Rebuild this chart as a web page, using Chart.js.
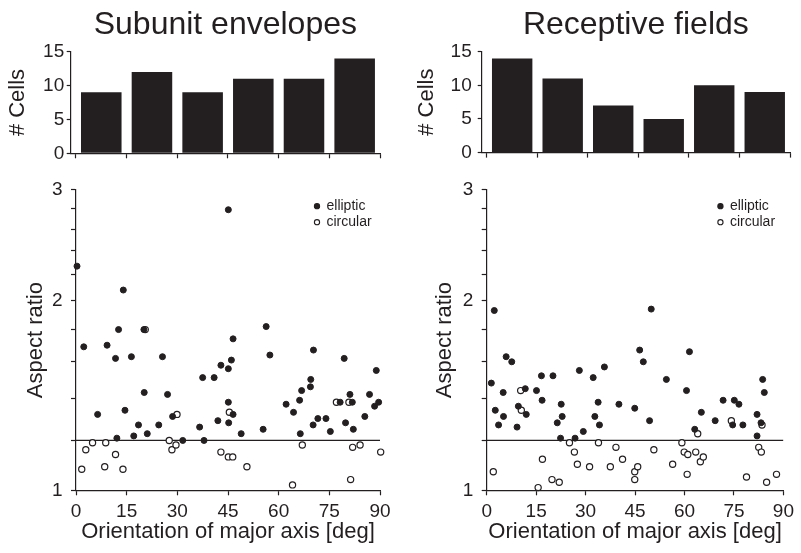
<!DOCTYPE html>
<html>
<head>
<meta charset="utf-8">
<script src="https://cdn.jsdelivr.net/npm/chart.js@4/dist/chart.umd.min.js"></script>
<style>
  html, body { margin: 0; background: #fff; }
  #fig { position: relative; width: 801px; height: 553px; overflow: hidden; }
  #fig canvas { position: absolute; }
</style>
</head>
<body>
<div id="fig">
  <canvas id="histL" width="400" height="170" style="left:0;top:0"></canvas>
  <canvas id="scatL" width="400" height="383" style="left:0;top:170px"></canvas>
  <canvas id="histR" width="401" height="170" style="left:400px;top:0"></canvas>
  <canvas id="scatR" width="401" height="383" style="left:400px;top:170px"></canvas>
</div>
<script>
// orientation bins (deg) and cell counts per bin
const binCenters = [7.5, 22.5, 37.5, 52.5, 67.5, 82.5];
const subunitCounts = [9, 12, 9, 11, 11, 14];
const receptiveCounts = [14, 11, 7, 5, 10, 9];

const degTicks = [0, 15, 30, 45, 60, 75, 90];
const ratioTicks = [1, 1.2, 1.4, 1.6, 1.8, 2, 2.2, 2.4, 2.6, 2.8, 3];
const ratioLabels = [1, 2, 3];
const cutoff = 1.2;

// [orientation deg, aspect ratio]
const subunitElliptic = [
  [0.3, 2.27], [45.1, 2.79], [14.0, 2.08], [2.3, 1.69], [9.2, 1.70], [12.6, 1.80],
  [20.1, 1.80], [11.7, 1.62], [16.4, 1.63], [25.6, 1.63], [56.3, 1.82], [46.5, 1.74],
  [57.4, 1.64], [70.3, 1.67], [79.4, 1.62], [42.9, 1.58], [46.0, 1.61], [45.1, 1.56],
  [88.9, 1.55], [37.5, 1.51], [40.9, 1.51], [20.2, 1.43], [27.1, 1.42], [6.4, 1.32],
  [14.5, 1.34], [18.5, 1.27], [24.5, 1.27], [17.1, 1.22], [21.1, 1.23], [28.6, 1.31],
  [12.1, 1.21], [31.6, 1.20], [36.6, 1.26], [37.9, 1.20], [42.0, 1.29], [45.2, 1.28],
  [45.1, 1.38], [46.5, 1.32], [48.9, 1.23], [55.4, 1.25], [62.2, 1.37], [64.4, 1.33],
  [66.2, 1.39], [66.8, 1.44], [69.4, 1.46], [69.5, 1.50], [66.4, 1.23], [70.2, 1.27],
  [71.6, 1.30], [74.0, 1.30], [75.3, 1.24], [78.2, 1.38], [79.8, 1.28], [81.1, 1.42],
  [81.8, 1.38], [82.1, 1.25], [85.5, 1.31], [86.9, 1.42], [88.4, 1.36], [89.6, 1.38]
];
const subunitCircular = [
  [1.7, 1.08], [2.9, 1.16], [4.9, 1.19], [8.8, 1.19], [8.5, 1.09], [11.7, 1.14],
  [13.9, 1.08], [27.6, 1.20], [28.4, 1.16], [29.6, 1.18], [42.9, 1.15], [45.1, 1.13],
  [46.4, 1.13], [50.6, 1.09], [64.1, 1.02], [67.0, 1.18], [81.9, 1.17], [84.1, 1.18],
  [81.3, 1.04], [90.2, 1.15], [20.5, 1.80], [29.9, 1.32], [45.4, 1.33], [77.1, 1.38],
  [80.8, 1.38]
];
const receptiveElliptic = [
  [2.3, 1.93], [49.9, 1.94], [5.9, 1.63], [7.6, 1.60], [46.4, 1.67], [47.5, 1.60],
  [61.5, 1.66], [28.1, 1.55], [35.7, 1.57], [1.4, 1.48], [2.6, 1.34], [5.0, 1.43],
  [3.6, 1.27], [5.1, 1.31], [9.2, 1.26], [9.6, 1.36], [11.7, 1.45], [12.0, 1.32],
  [15.1, 1.44], [16.6, 1.52], [16.8, 1.39], [20.1, 1.52], [21.4, 1.28], [22.6, 1.37],
  [22.9, 1.31], [22.4, 1.21], [26.8, 1.21], [29.3, 1.24], [32.3, 1.51], [32.8, 1.31],
  [33.8, 1.38], [34.2, 1.27], [40.1, 1.37], [44.9, 1.35], [49.4, 1.29], [54.5, 1.50],
  [60.6, 1.44], [63.1, 1.25], [65.1, 1.33], [69.3, 1.29], [71.7, 1.39], [74.6, 1.27],
  [75.1, 1.39], [76.5, 1.37], [77.7, 1.27], [82.0, 1.32], [83.2, 1.28], [82.0, 1.22],
  [83.7, 1.50], [84.2, 1.43]
];
const receptiveCircular = [
  [2.0, 1.07], [15.6, 1.01], [16.9, 1.12], [19.8, 1.04], [22.0, 1.03], [25.1, 1.19],
  [26.6, 1.15], [27.5, 1.10], [31.2, 1.09], [33.9, 1.19], [37.5, 1.09], [39.2, 1.17],
  [41.2, 1.12], [44.9, 1.07], [44.9, 1.04], [45.8, 1.09], [50.7, 1.16], [56.4, 1.10],
  [59.2, 1.19], [59.9, 1.15], [61.0, 1.14], [60.8, 1.06], [63.4, 1.15], [64.8, 1.11],
  [65.7, 1.13], [78.8, 1.05], [82.5, 1.17], [83.3, 1.15], [84.9, 1.03], [87.9, 1.06],
  [10.3, 1.44], [10.5, 1.34], [64.0, 1.23], [74.2, 1.29], [83.5, 1.27]
];

const INK = "#231f20";
const FONT = "'Liberation Sans', Arial, Helvetica, sans-serif";
Chart.defaults.font.family = FONT;
Chart.defaults.font.size = 19;
Chart.defaults.color = INK;

const axisLine = { color: INK, width: 1.2 };
const tickMarks = len => ({ display: true, drawOnChartArea: false, tickLength: len, tickColor: INK, tickWidth: 1.2, offset: false });

// legend drawn inside the plot, top right
const insideLegend = {
  id: "insideLegend",
  afterDatasetsDraw(chart) {
    const { ctx, chartArea } = chart;
    chart.data.datasets.slice(0, 2).forEach((ds, i) => {
      const x = chartArea.right - 63, y = chartArea.top + 16.3 + i * 16;
      ctx.save();
      ctx.beginPath();
      ctx.arc(x, y, 2.6, 0, Math.PI * 2);
      ctx.fillStyle = ds.backgroundColor;
      ctx.fill();
      ctx.lineWidth = 1.1;
      ctx.strokeStyle = ds.borderColor;
      ctx.stroke();
      ctx.fillStyle = INK;
      ctx.font = "14px " + FONT;
      ctx.textBaseline = "middle";
      ctx.fillText(ds.label, x + 9.5, y);
      ctx.restore();
    });
  }
};

function histogram(id, title, counts, o) {
  return new Chart(document.getElementById(id), {
    type: "bar",
    data: {
      datasets: [{
        data: binCenters.map((x, i) => ({ x, y: counts[i] })),
        backgroundColor: INK, borderWidth: 0,
        barPercentage: 0.8, categoryPercentage: 1
      }]
    },
    options: {
      responsive: false, animation: false,
      layout: { padding: { left: 0, right: o.right, top: 0, bottom: 11.7 } },
      plugins: {
        legend: { display: false }, tooltip: { enabled: false },
        title: {
          display: true, text: title, fullSize: false, color: INK,
          font: { size: 32, weight: "normal" }, padding: { top: 5.5, bottom: 7.8 }
        }
      },
      scales: {
        x: {
          type: "linear", min: -1.55, max: 90, offset: false,
          afterBuildTicks: s => { s.ticks = degTicks.map(v => ({ value: v })); },
          grid: tickMarks(5), border: axisLine, ticks: { display: false }
        },
        y: {
          min: 0, max: 15,
          ticks: { stepSize: 5, padding: o.labelPad },
          grid: tickMarks(4), border: axisLine,
          title: { display: true, text: "# Cells", font: { size: 22 }, padding: { top: o.titlePad, bottom: 0 } },
          afterFit: s => { s.width = o.axisX; }
        }
      }
    }
  });
}

function scatterPanel(id, elliptic, circular, o) {
  return new Chart(document.getElementById(id), {
    type: "scatter",
    data: {
      datasets: [
        { label: "elliptic", data: elliptic.map(([x, y]) => ({ x, y })), clip: false,
          pointRadius: 3, borderWidth: 1, backgroundColor: INK, borderColor: INK },
        { label: "circular", data: circular.map(([x, y]) => ({ x, y })), clip: false,
          pointRadius: 3.1, borderWidth: 1.2, backgroundColor: "#fff", borderColor: INK },
        { type: "line", label: "cutoff", data: [{ x: 0, y: cutoff }, { x: 90, y: cutoff }],
          borderColor: INK, borderWidth: 1.2, pointRadius: 0 }
      ]
    },
    options: {
      responsive: false, animation: false,
      layout: { padding: { left: 0, right: o.right, top: 16, bottom: 8.2 } },
      plugins: { legend: { display: false }, tooltip: { enabled: false } },
      scales: {
        x: {
          type: "linear", min: 0, max: 90,
          ticks: { stepSize: 15, padding: 7, font: { size: 19, lineHeight: 1 } },
          grid: tickMarks(5), border: axisLine,
          title: { display: true, text: "Orientation of major axis [deg]",
                   font: { size: 22, lineHeight: 0.8 }, padding: { top: -5.1, bottom: 4 } }
        },
        y: {
          type: "logarithmic", min: 1, max: 3,
          afterBuildTicks: s => { s.ticks = ratioTicks.map(v => ({ value: v })); },
          ticks: { padding: 8.5, callback: v => ratioLabels.includes(v) ? String(v) : "" },
          grid: tickMarks(5), border: axisLine,
          title: { display: true, text: "Aspect ratio", font: { size: 22 }, padding: { top: o.titlePad, bottom: 0 } },
          afterFit: s => { s.width = o.axisX; }
        }
      }
    },
    plugins: [insideLegend]
  });
}

histogram("histL", "Subunit envelopes", subunitCounts, { right: 20, axisX: 70.7, labelPad: 2.5, titlePad: 5 });
histogram("histR", "Receptive fields", receptiveCounts, { right: 11, axisX: 81.7, labelPad: 6, titlePad: 14 });
scatterPanel("scatL", subunitElliptic, subunitCircular, { right: 20, axisX: 76, titlePad: 22.8 });
scatterPanel("scatR", receptiveElliptic, receptiveCircular, { right: 11, axisX: 86.7, titlePad: 31.8 });
</script>
</body>
</html>
